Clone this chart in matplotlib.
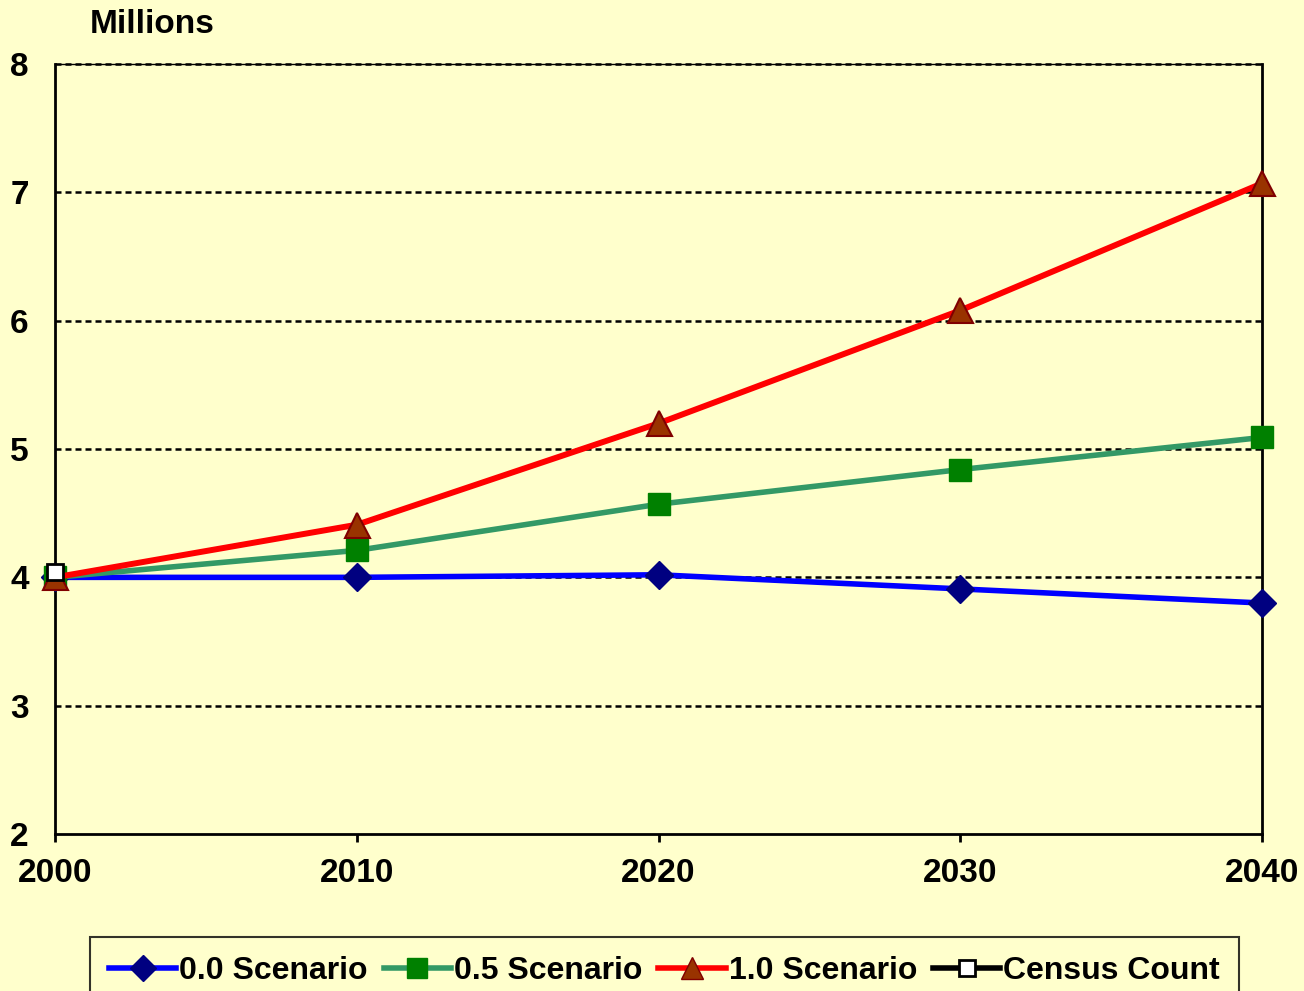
import matplotlib.pyplot as plt
from matplotlib.lines import Line2D

# projected population, millions
years = [2000, 2010, 2020, 2030, 2040]
scen_00 = [4.00, 4.00, 4.02, 3.91, 3.80]
scen_05 = [4.00, 4.21, 4.57, 4.84, 5.09]
scen_10 = [4.00, 4.41, 5.20, 6.08, 7.07]
census_years = [2000]
census = [4.04]

bg = "#FFFFCC"
plt.rcParams["font.family"] = ["Liberation Sans", "DejaVu Sans"]
plt.rcParams["font.weight"] = "bold"

fig = plt.figure(figsize=(13.04, 9.91), dpi=100, facecolor=bg)
ax = fig.add_axes([0.0422, 0.1584, 0.9256, 0.777], facecolor=bg)

# dotted gridlines
for y in [3, 4, 5, 6, 7, 8]:
    ax.axhline(y, color="black", lw=1.8, ls=(0, (2.4, 1.6)), zorder=1)

ax.plot(years, scen_00, color="#0000FF", lw=4, marker="D", ms=14,
        mfc="#000080", mec="#000080", zorder=3, label="0.0 Scenario")
ax.plot(years, scen_05, color="#339966", lw=4, marker="s", ms=16,
        mfc="#008000", mec="#008000", zorder=4, label="0.5 Scenario")
ax.plot(years, scen_10, color="#FF0000", lw=4.3, marker="^", ms=18,
        mfc="#993300", mec="#800000", mew=1.5, zorder=5, label="1.0 Scenario")
ax.plot(census_years, census, color="black", lw=4, marker="s", ms=11,
        mfc="white", mec="black", mew=2, zorder=6, label="Census Count")
for ln in ax.lines:
    ln.set_clip_on(False)

ax.set_xlim(2000, 2040)
ax.set_ylim(2, 8)
ax.set_xticks(years)
ax.set_yticks([2, 3, 4, 5, 6, 7, 8])
ax.tick_params(axis="x", direction="out", length=6, width=2, pad=11, labelsize=24)
ax.tick_params(axis="y", length=0, pad=19, labelsize=24)
for lab in ax.get_xticklabels() + ax.get_yticklabels():
    lab.set_fontweight("bold")

for s in ["left", "bottom", "right"]:
    ax.spines[s].set_linewidth(2)
ax.spines["top"].set_linewidth(1)

fig.text(0.069, 0.975, "Millions", fontsize=24, fontweight="bold", va="center", ha="left")

handles = [
    Line2D([], [], color="#0000FF", lw=4, marker="D", ms=13, mfc="#000080", mec="#000080"),
    Line2D([], [], color="#339966", lw=4, marker="s", ms=14, mfc="#008000", mec="#008000"),
    Line2D([], [], color="#FF0000", lw=4, marker="^", ms=16, mfc="#993300", mec="#800000"),
    Line2D([], [], color="black", lw=4, marker="s", ms=11, mfc="white", mec="black", mew=2),
]
labels = ["0.0 Scenario", "0.5 Scenario", "1.0 Scenario", "Census Count"]
leg = fig.legend(handles, labels, loc="upper center", bbox_to_anchor=(0.5096, 0.0545),
                 ncol=4, frameon=True, fancybox=False, facecolor=bg, edgecolor="black",
                 prop={"size": 23, "weight": "bold"}, handlelength=2.1,
                 handletextpad=0.1, columnspacing=0.5, borderpad=0.6, borderaxespad=0)
leg.get_frame().set_linewidth(1.5)

fig.savefig("out.png", dpi=100, facecolor=bg)
